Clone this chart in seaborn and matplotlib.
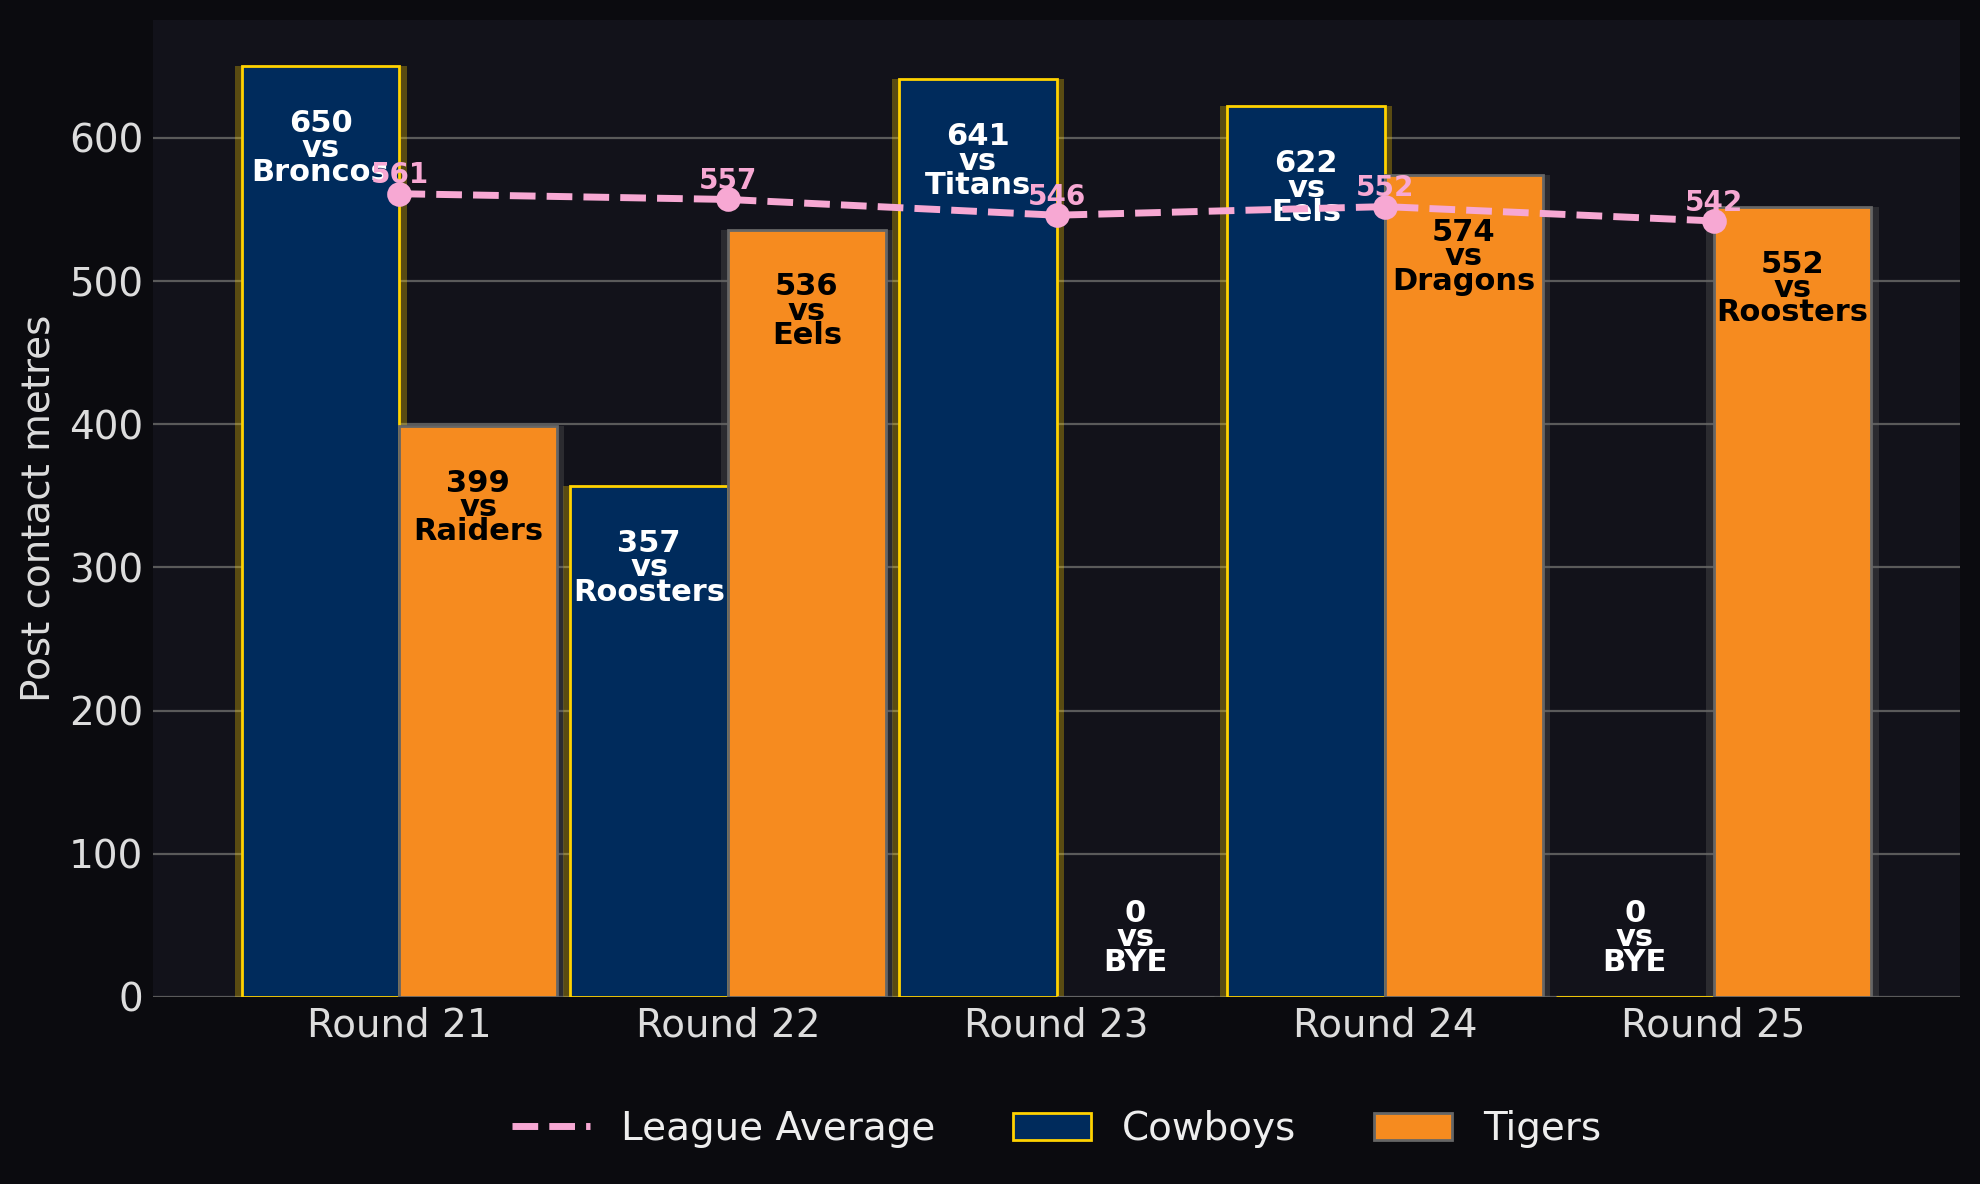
import numpy as np
import pandas as pd
import seaborn as sns
import matplotlib.pyplot as plt
from matplotlib.patches import Patch, Rectangle
from matplotlib.lines import Line2D

# datos
rounds = ["Round 21", "Round 22", "Round 23", "Round 24", "Round 25"]
cowboys = [650, 357, 641, 622, 0]
cowboys_opp = ["Broncos", "Roosters", "Titans", "Eels", "BYE"]
tigers = [399, 536, 0, 574, 552]
tigers_opp = ["Raiders", "Eels", "BYE", "Dragons", "Roosters"]
league_avg = [561, 557, 546, 552, 542]
teams = ["Cowboys", "Tigers"]

navy = "#002B5C"
gold = "#FFD200"
orange = "#F68B1F"
grey_edge = "#666666"
pink = "#F7A8D3"
fig_bg = "#0B0B0F"
ax_bg = "#12121A"

df = pd.DataFrame({
    "round": rounds * 2,
    "metres": cowboys + tigers,
    "team": ["Cowboys"] * len(rounds) + ["Tigers"] * len(rounds),
})

sns.set_style("dark")
plt.rcParams["font.family"] = ["DejaVu Sans"]

fig = plt.figure(figsize=(9.9, 5.92), dpi=200, facecolor=fig_bg)
ax = fig.add_axes([0.0773, 0.158, 0.9126, 0.8253])
ax.set_facecolor(ax_bg)

sns.barplot(data=df, x="round", y="metres", hue="team", hue_order=teams,
            palette={"Cowboys": navy, "Tigers": orange}, width=0.96,
            saturation=1, order=rounds, ax=ax, legend=False, zorder=2)

edges = {"Cowboys": gold, "Tigers": grey_edge}
text_cols = {"Cowboys": "white", "Tigers": "black"}
vals = {"Cowboys": cowboys, "Tigers": tigers}
opps = {"Cowboys": cowboys_opp, "Tigers": tigers_opp}
ymax = max(cowboys + tigers) * 1.05
pad = 0.022  # sombra lateral

for cont, team in zip(ax.containers, teams):
    for bar, v, o in zip(cont, vals[team], opps[team]):
        bar.set_edgecolor(edges[team])
        bar.set_linewidth(1.0)
        # sombra detras de la barra
        sh = Rectangle((bar.get_x() - pad, 0), bar.get_width() + 2 * pad, bar.get_height(),
                       facecolor=edges[team], alpha=0.3, linewidth=0, zorder=1.5)
        ax.add_patch(sh)
        cx = bar.get_x() + bar.get_width() / 2
        if v == 0:
            ax.text(cx, 14, f"{v}\nvs\n{o}", ha="center", va="bottom", color="white",
                    fontsize=11, fontweight="bold", linespacing=0.8, zorder=5)
        else:
            ax.text(cx, v - 30, f"{v}\nvs\n{o}", ha="center", va="top", color=text_cols[team],
                    fontsize=11, fontweight="bold", linespacing=0.8, zorder=5)

# linea media de la liga
sns.pointplot(x=rounds, y=league_avg, color=pink, linestyles="--", markers="o",
              markersize=7, linewidth=2.5, ax=ax)
for line in ax.lines:
    line.set_zorder(6)
for i, a in enumerate(league_avg):
    ax.text(i, a + 3, str(a), ha="center", va="bottom", color=pink, fontsize=10,
            fontweight="bold", zorder=7)

ax.set_xlim(-0.75, 4.75)
ax.set_ylim(0, ymax)
ax.set_yticks(range(0, 700, 100))
ax.grid(axis="y", color="#5a5a5a", linewidth=0.8, zorder=0)
ax.grid(axis="x", visible=False)
ax.set_axisbelow(True)
for s in ax.spines.values():
    s.set_visible(False)
ax.tick_params(colors="#dddddd", labelsize=14, length=0)
ax.set_xlabel("")
ax.set_ylabel("Post contact metres", color="#dddddd", fontsize=14)

handles = [
    Line2D([0], [0], color=pink, linestyle="--", linewidth=2.5),
    Patch(facecolor=navy, edgecolor=gold, linewidth=1.0),
    Patch(facecolor=orange, edgecolor=grey_edge, linewidth=1.0),
]
leg = ax.legend(handles, ["League Average"] + teams, loc="center",
                bbox_to_anchor=(0.5, -0.135), ncol=3, frameon=False,
                fontsize=14, labelcolor="#eeeeee", columnspacing=2.0)

plt.savefig("out.png", dpi=200, facecolor=fig_bg)
